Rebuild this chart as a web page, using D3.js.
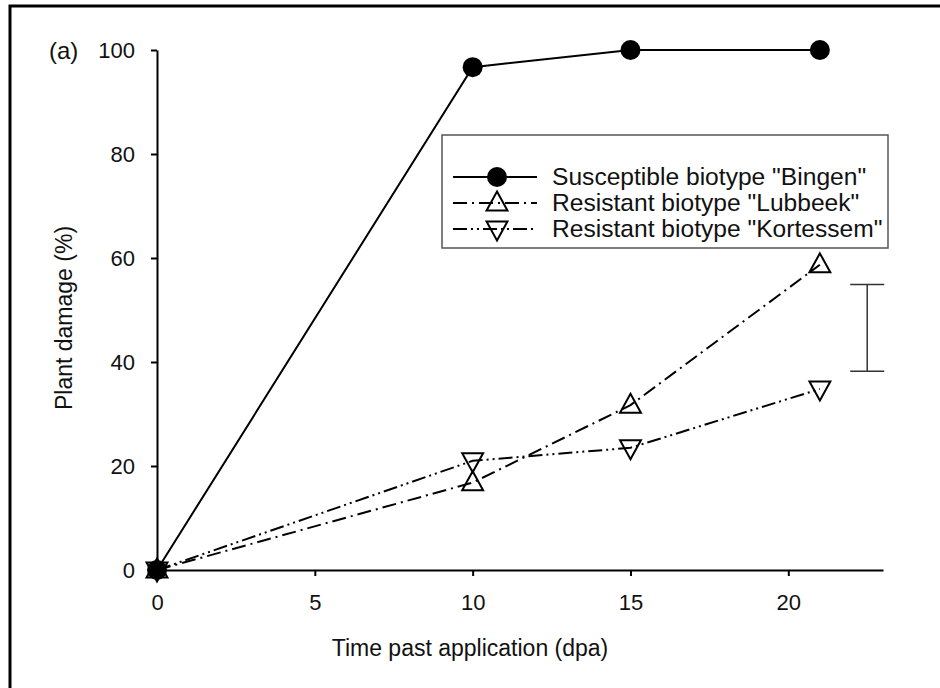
<!DOCTYPE html>
<html><head><meta charset="utf-8">
<script src="https://cdn.jsdelivr.net/npm/d3@7"></script>
<style>body{margin:0;background:#fff}svg{display:block}text{font-family:"Liberation Sans",Arial,sans-serif;fill:#111}</style>
</head><body>
<script>
const days = [0, 10, 15, 21];
const bingen = [0, 96.7, 100, 100];
const lubbeek = [0, 16.8, 31.7, 58.7];
const kortessem = [0, 21.0, 23.5, 34.8];
const seriesNames = ['Susceptible biotype "Bingen"', 'Resistant biotype "Lubbeek"', 'Resistant biotype "Kortessem"'];
const xTicks = [0, 5, 10, 15, 20];
const yTicks = [0, 20, 40, 60, 80, 100];
const errX = 22.5, errLow = 38.2, errHigh = 54.9;

const W = 940, H = 688;
const svg = d3.select("body").append("svg").attr("width", W).attr("height", H);
svg.append("rect").attr("x", 10).attr("y", 6).attr("width", 960).attr("height", 720)
  .attr("fill", "none").attr("stroke", "#000").attr("stroke-width", 3);

const x = d3.scaleLinear().domain([0, 23]).range([157, 883]);
const y = d3.scaleLinear().domain([0, 100]).range([570, 50]);

const tickFs = "22px", titleFs = "23px", legFs = "24.6px";
const xAxis = svg.append("g").attr("transform", "translate(0,570)")
  .call(d3.axisBottom(x).tickValues(xTicks).tickSize(6).tickPadding(18).tickSizeOuter(0));
const yAxis = svg.append("g").attr("transform", "translate(157,0)")
  .call(d3.axisLeft(y).tickValues(yTicks).tickSize(6).tickPadding(16).tickSizeOuter(0));
[xAxis, yAxis].forEach(a => {
  a.select(".domain").attr("stroke", "#000").attr("stroke-width", 2);
  a.selectAll(".tick line").attr("stroke", "#000").attr("stroke-width", 2);
  a.selectAll(".tick text").style("font-size", tickFs).style("font-family", "Liberation Sans, Arial, sans-serif").attr("fill", "#111");
});

svg.append("text").attr("x", 49).attr("y", 59).style("font-size", "24px").text("(a)");
svg.append("text").attr("x", 470).attr("y", 656).attr("text-anchor", "middle").style("font-size", titleFs).text("Time past application (dpa)");
svg.append("text").attr("transform", "translate(72,318) rotate(-90)").attr("text-anchor", "middle").style("font-size", titleFs).text("Plant damage (%)");

const line = d3.line().x(d => x(d[0])).y(d => y(d[1]));
const styles = [
  {vals: bingen, dash: null, marker: "circle"},
  {vals: lubbeek, dash: "14,5,2,5", marker: "up"},
  {vals: kortessem, dash: "14,4,2,4,2,4", marker: "down"}
];
const triUp = s => `M0,${-s*0.6} L${s*0.55},${s*0.4} L${-s*0.55},${s*0.4} Z`;
const triDown = s => `M0,${s*0.6} L${s*0.55},${-s*0.4} L${-s*0.55},${-s*0.4} Z`;
function drawMarker(g, type, cx, cy) {
  if (type === "circle") g.append("circle").attr("cx", cx).attr("cy", cy).attr("r", 10).attr("fill", "#000");
  else g.append("path").attr("d", type === "up" ? triUp(19) : triDown(19))
    .attr("transform", `translate(${cx},${cy})`).attr("fill", "none").attr("stroke", "#000").attr("stroke-width", 2);
}
[2, 1, 0].forEach(i => {
  const s = styles[i];
  const pts = days.map((d, j) => [d, s.vals[j]]);
  svg.append("path").attr("d", line(pts)).attr("fill", "none").attr("stroke", "#000")
    .attr("stroke-width", 2).attr("stroke-dasharray", s.dash);
  const g = svg.append("g");
  pts.forEach(p => drawMarker(g, s.marker, x(p[0]), y(p[1])));
});

const eb = svg.append("g").attr("stroke", "#333").attr("stroke-width", 1.5);
eb.append("line").attr("x1", x(errX)).attr("x2", x(errX)).attr("y1", y(errHigh)).attr("y2", y(errLow));
eb.append("line").attr("x1", x(errX) - 17).attr("x2", x(errX) + 17).attr("y1", y(errHigh)).attr("y2", y(errHigh));
eb.append("line").attr("x1", x(errX) - 17).attr("x2", x(errX) + 17).attr("y1", y(errLow)).attr("y2", y(errLow));

const lg = svg.append("g");
lg.append("rect").attr("x", 442).attr("y", 135).attr("width", 446).attr("height", 113)
  .attr("fill", "#fff").attr("stroke", "#555").attr("stroke-width", 1.5);
seriesNames.forEach((name, i) => {
  const cy = 177 + i * 26;
  lg.append("line").attr("x1", 453).attr("x2", 537).attr("y1", cy).attr("y2", cy)
    .attr("stroke", "#000").attr("stroke-width", 2).attr("stroke-dasharray", styles[i].dash);
  drawMarker(lg, styles[i].marker, 497, cy);
  lg.append("text").attr("x", 552).attr("y", cy + 8).style("font-size", legFs).text(name);
});
</script>
</body></html>
